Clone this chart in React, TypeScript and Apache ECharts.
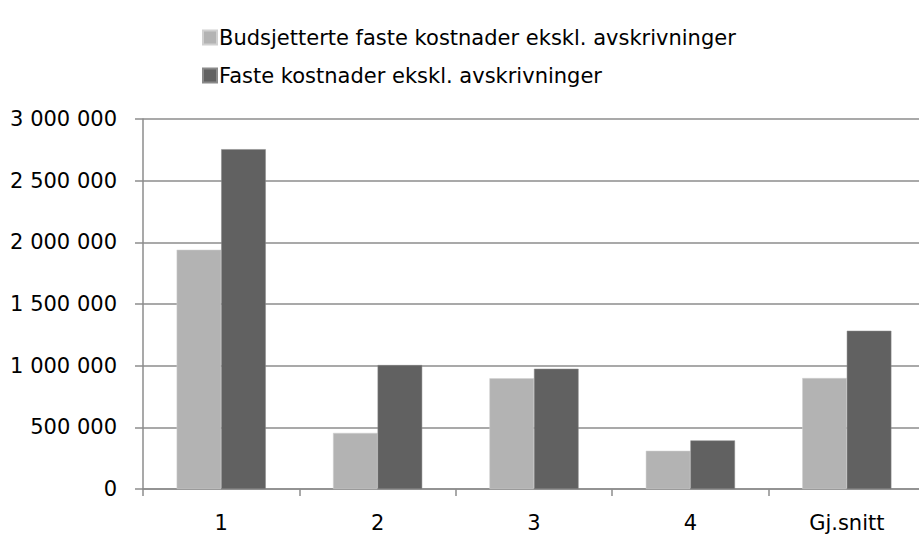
import React, { useEffect, useRef } from "react";
import * as echarts from "echarts";

const categories = ["1", "2", "3", "4", "Gj.snitt"];
const budgetName = "Budsjetterte faste kostnader ekskl. avskrivninger";
const actualName = "Faste kostnader ekskl. avskrivninger";
const budgetValues = [1940000, 455000, 897000, 310000, 900000];
const actualValues = [2755000, 1005000, 975000, 394000, 1283000];
const yMin = 0;
const yMax = 3000000;
const yInterval = 500000;

const fmt = (v: number) =>
  String(Math.round(v)).replace(/\B(?=(\d{3})+(?!\d))/g, " ");

export default function App() {
  const ref = useRef<HTMLDivElement>(null);
  useEffect(() => {
    if (!ref.current) return;
    const chart = echarts.init(ref.current, null, { renderer: "svg" });
    const font = "DejaVu Sans";
    const fs = 21;
    chart.setOption({
      animation: false,
      backgroundColor: "#ffffff",
      textStyle: { fontFamily: font },
      legend: {
        orient: "vertical",
        left: 197,
        top: 22,
        itemWidth: 14,
        itemHeight: 14,
        itemGap: 17,
        icon: "rect",
        textStyle: { fontSize: fs, color: "#000", fontFamily: font, padding: [0, 0, 0, -3] },
        data: [budgetName, actualName],
      },
      grid: {
        left: 143,
        top: 119,
        bottom: 46,
        right: -6,
        outerBoundsMode: "none",
        containLabel: false,
      },
      xAxis: {
        type: "category",
        data: categories,
        axisLine: { show: true, lineStyle: { color: "#8c8c8c", width: 1.5 } },
        axisTick: { show: true, length: 7, lineStyle: { color: "#8c8c8c", width: 1.5 } },
        axisLabel: { margin: 23, fontSize: fs, color: "#000", fontFamily: font },
        splitLine: { show: false },
      },
      yAxis: {
        type: "value",
        min: yMin,
        max: yMax,
        interval: yInterval,
        axisLine: { show: true, lineStyle: { color: "#8c8c8c", width: 1.5 } },
        axisTick: { show: true, length: 8, lineStyle: { color: "#8c8c8c", width: 1.5 } },
        axisLabel: {
          margin: 26,
          fontSize: fs,
          color: "#000",
          fontFamily: font,
          formatter: (v: number) => fmt(v),
        },
        splitLine: { show: true, lineStyle: { color: "#8c8c8c", width: 1.5 } },
      },
      series: [
        {
          name: budgetName,
          type: "bar",
          data: budgetValues,
          barGap: "0%",
          barCategoryGap: "43%",
          itemStyle: { color: "#b3b3b3", borderColor: "#d0d0d0", borderWidth: 0.5 },
        },
        {
          name: actualName,
          type: "bar",
          data: actualValues,
          barGap: "0%",
          barCategoryGap: "43%",
          itemStyle: { color: "#616161", borderColor: "#8a8a8a", borderWidth: 0.5 },
        },
      ],
    });
    return () => chart.dispose();
  }, []);
  return <div ref={ref} style={{ width: 919, height: 535, position: "absolute", left: 0, top: 0 }} />;
}
